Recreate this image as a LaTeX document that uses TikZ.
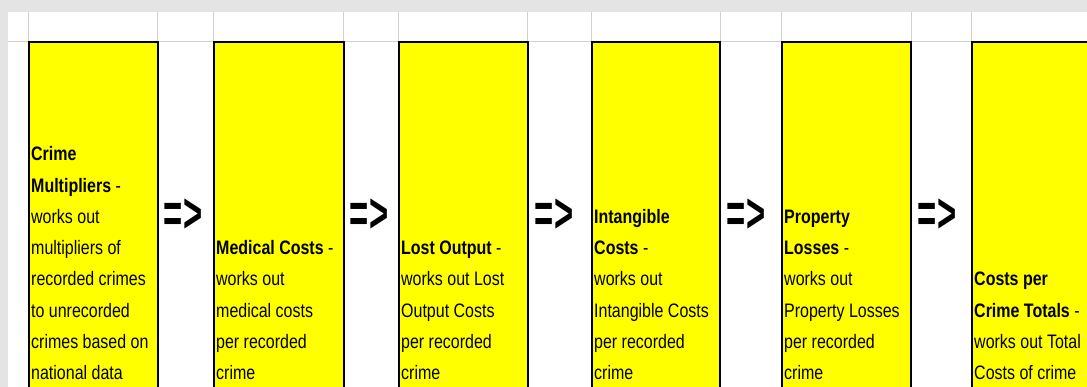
\documentclass[tikz,border=0pt]{standalone}
\usepackage{fontspec}
\setmainfont{Liberation Sans}[FakeStretch=0.82]
\usetikzlibrary{calc}
\definecolor{sheetgrey}{HTML}{E4E4E4}
\definecolor{gridgrey}{HTML}{D0D0D0}
\definecolor{cellyellow}{HTML}{FFFF00}
\newcommand{\tallsign}[1]{\scalebox{1}[1.4]{#1}}

\begin{document}
\begin{tikzpicture}[x=1pt,y=-1pt,
    cell/.style={rectangle,draw=black,line width=2.4pt,fill=cellyellow,
      inner sep=0pt,anchor=north west,minimum height=360pt},
    desc/.style={anchor=south west,align=left,inner sep=0pt,text depth=0pt,
      font=\fontsize{19.5}{31.3}\selectfont},
    pointer/.style={inner sep=0pt,font=\fontsize{40}{42}\selectfont\bfseries}]
    \clip (0,0) rectangle (1087,387);
    \fill[white] (0,0) rectangle (1087,387);
    % sheet frame
    \fill[sheetgrey] (0,0) rectangle (1087,12);
    \fill[sheetgrey] (0,0) rectangle (8,387);
    % grid lines
    \draw[gridgrey] (8,41) -- (1087,41);
    \foreach \x in {28,157,213,343,398,527,591,720,781,911,971}
      \draw[gridgrey] (\x,12) -- (\x,41);
    % cells
    \node[cell,minimum width=129pt] (crime) at (28,41) {};
    \node[cell,minimum width=130pt] (medical) at (213,41) {};
    \node[cell,minimum width=129pt] (output) at (398,41) {};
    \node[cell,minimum width=128pt] (intangible) at (591,41) {};
    \node[cell,minimum width=129pt] (property) at (781,41) {};
    \node[cell,minimum width=140pt] (totals) at (971,41) {};
    % texts
    \node[desc] (crimetxt) at (31,380) {\textbf{Crime}\\\textbf{Multipliers} -\\works out\\multipliers of\\recorded crimes\\to unrecorded\\crimes based on\\national data};
    \node[desc] (medicaltxt) at (216,380) {\textbf{Medical Costs} -\\works out\\medical costs\\per recorded\\crime};
    \node[desc] (outputtxt) at (401,380) {\textbf{Lost Output} -\\works out Lost\\Output Costs\\per recorded\\crime};
    \node[desc] (intangibletxt) at (594,380) {\textbf{Intangible}\\\textbf{Costs} -\\works out\\Intangible Costs\\per recorded\\crime};
    \node[desc] (propertytxt) at (784,380) {\textbf{Property}\\\textbf{Losses} -\\works out\\Property Losses\\per recorded\\crime};
    \node[desc] (totalstxt) at (974,380) {\textbf{Costs per}\\\textbf{Crime Totals} -\\works out Total\\Costs of crime};
    % arrows between cells
    \node[pointer] (step1) at (183,216) {\tallsign{=>}};
    \node[pointer] (step2) at (369,216) {\tallsign{=>}};
    \node[pointer] (step3) at (554,216) {\tallsign{=>}};
    \node[pointer] (step4) at (746,216) {\tallsign{=>}};
    \node[pointer] (step5) at (937,216) {\tallsign{=>}};
\end{tikzpicture}
\end{document}
